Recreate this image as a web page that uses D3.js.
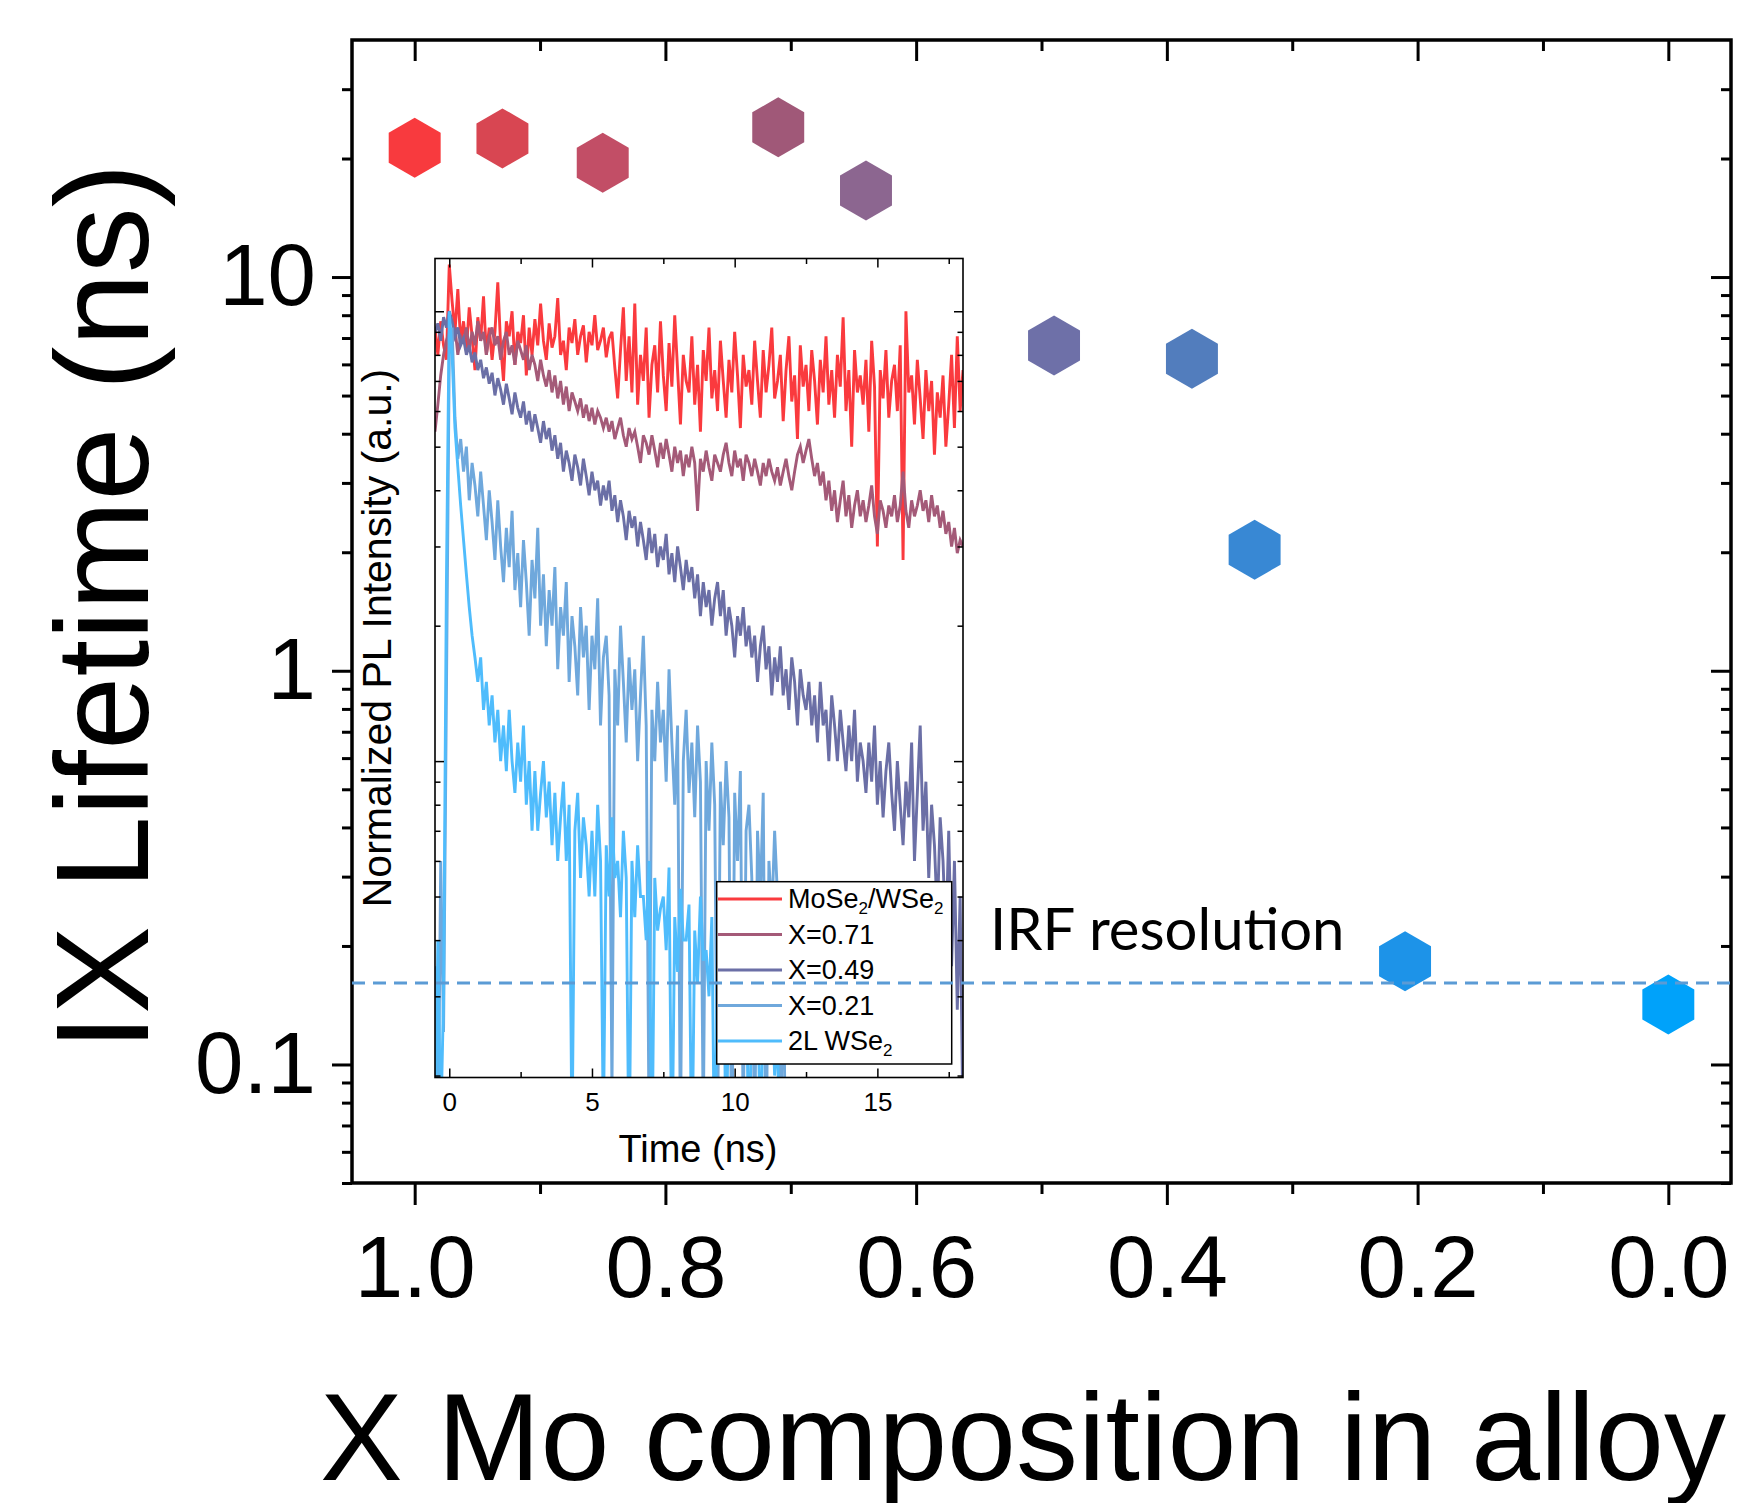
<!DOCTYPE html>
<html>
<head>
<meta charset="utf-8">
<script src="https://cdn.jsdelivr.net/npm/d3@7"></script>
<style>
	body { margin: 0; background: #fff; }
	svg { display: block; }
	.ax text { font-family: "Liberation Sans", Arial, sans-serif; fill: #000; }
	.ax line { stroke: #000; }
</style>
</head>
<body>
<svg class="mainsvg" width="1748" height="1503"></svg>
<script>
// ---- main panel: IX lifetime vs Mo composition ----
var composition = [1.0, 0.93, 0.85, 0.71, 0.64, 0.49, 0.38, 0.33, 0.21, 0.0];
var lifetime    = [21.3, 22.5, 19.5, 24.0, 16.6, 6.7, 6.2, 2.03, 0.183, 0.142];
var pointColors = ['#F83A3E', '#D84652', '#C24E66', '#A05878', '#8C6690',
                   '#6E70A8', '#527DBD', '#3888D4', '#1D93E8', '#00A2FA'];
var irfLevel = 0.161;

var xTicks      = [1.0, 0.8, 0.6, 0.4, 0.2, 0.0];
var xMinorTicks = [0.9, 0.7, 0.5, 0.3, 0.1];
var yTicks      = [0.1, 1, 10];
var yMinorTicks = [0.05, 0.06, 0.07, 0.08, 0.09, 0.2, 0.3, 0.4, 0.5, 0.6, 0.7, 0.8, 0.9,
                   2, 3, 4, 5, 6, 7, 8, 9, 20, 30];

// ---- inset: normalized PL decays (0.1 ns bins starting at -0.5 ns) ----
var decayT0 = -0.5, decayDt = 0.1;
var decayMoSe2 = [
	0.92, 0.80, 0.95, 0.84, 0.78, 1.27, 1.05, 0.90, 1.12, 0.85,
	0.95, 0.82, 1.02, 0.88, 0.74, 0.97, 0.86, 1.08, 0.80, 0.92,
	0.78, 0.90, 1.16, 0.84, 0.70, 0.95, 0.88, 1.00, 0.76, 0.90,
	0.85, 0.98, 0.72, 0.92, 0.80, 0.96, 0.84, 1.04, 0.86, 0.78,
	0.94, 0.83, 0.88, 1.07, 0.80, 0.86, 0.74, 0.92, 0.85, 0.96,
	0.80, 0.88, 0.93, 0.77, 0.90, 0.84, 0.98, 0.82, 0.86, 0.92,
	0.79, 0.87, 0.90, 0.75, 0.64, 0.82, 1.02, 0.70, 0.88, 0.66,
	1.04, 0.62, 0.80, 0.70, 0.92, 0.58, 0.76, 0.84, 0.66, 0.95,
	0.72, 0.60, 0.85, 0.68, 0.98, 0.74, 0.56, 0.80, 0.70, 0.66,
	0.88, 0.62, 0.76, 0.54, 0.82, 0.70, 0.92, 0.64, 0.74, 0.60,
	0.86, 0.70, 0.58, 0.78, 0.66, 0.90, 0.72, 0.55, 0.80, 0.68,
	0.74, 0.62, 0.86, 0.70, 0.58, 0.82, 0.66, 0.76, 0.92, 0.64,
	0.70, 0.80, 0.57, 0.74, 0.88, 0.63, 0.72, 0.52, 0.84, 0.68,
	0.76, 0.60, 0.82, 0.70, 0.56, 0.78, 0.66, 0.88, 0.62, 0.74,
	0.58, 0.80, 0.68, 0.97, 0.60, 0.74, 0.50, 0.82, 0.66, 0.72,
	0.62, 0.78, 0.54, 0.86, 0.68, 0.30, 0.74, 0.64, 0.82, 0.58,
	0.70, 0.76, 0.60, 0.84, 0.28, 1.00, 0.66, 0.72, 0.56, 0.78,
	0.64, 0.52, 0.74, 0.60, 0.70, 0.48, 0.66, 0.58, 0.72, 0.50,
	0.62, 0.80, 0.55, 0.88, 0.60, 0.74
];
var decayX071 = [
	0.54, 0.62, 0.72, 0.80, 0.86, 0.90, 0.84, 0.92, 0.80, 0.88,
	0.86, 0.92, 0.82, 0.90, 0.84, 0.95, 0.86, 0.90, 0.80, 0.88,
	0.92, 0.84, 0.88, 0.78, 0.86, 0.90, 0.80, 0.84, 0.76, 0.86,
	0.82, 0.78, 0.84, 0.74, 0.80, 0.76, 0.70, 0.78, 0.72, 0.68,
	0.74, 0.66, 0.72, 0.64, 0.70, 0.62, 0.68, 0.60, 0.66, 0.63,
	0.60, 0.64, 0.58, 0.62, 0.57, 0.61, 0.56, 0.60, 0.58, 0.55,
	0.58, 0.54, 0.57, 0.52, 0.55, 0.58, 0.53, 0.50, 0.55, 0.52,
	0.54, 0.50, 0.46, 0.53, 0.51, 0.48, 0.53, 0.49, 0.45, 0.51,
	0.47, 0.52, 0.48, 0.44, 0.50, 0.46, 0.49, 0.43, 0.48, 0.45,
	0.50, 0.46, 0.36, 0.47, 0.44, 0.49, 0.45, 0.42, 0.48, 0.46,
	0.44, 0.48, 0.51, 0.46, 0.43, 0.49, 0.45, 0.47, 0.42, 0.48,
	0.46, 0.43, 0.47, 0.44, 0.41, 0.46, 0.43, 0.47, 0.44, 0.42,
	0.45, 0.41, 0.44, 0.47, 0.43, 0.40, 0.44, 0.48, 0.50, 0.46,
	0.49, 0.52, 0.47, 0.43, 0.46, 0.41, 0.44, 0.38, 0.42, 0.36,
	0.40, 0.34, 0.38, 0.42, 0.35, 0.39, 0.33, 0.37, 0.40, 0.35,
	0.38, 0.34, 0.37, 0.41, 0.35, 0.32, 0.38, 0.36, 0.33, 0.37,
	0.35, 0.39, 0.34, 0.37, 0.44, 0.36, 0.33, 0.38, 0.35, 0.37,
	0.40, 0.36, 0.38, 0.34, 0.39, 0.35, 0.37, 0.33, 0.36, 0.32,
	0.34, 0.30, 0.33, 0.29, 0.31, 0.30
];
var decayX049 = [
	0.90, 0.94, 0.86, 0.97, 0.92, 1.00, 0.95, 0.88, 0.92, 0.84,
	0.87, 0.80, 0.84, 0.77, 0.81, 0.74, 0.78, 0.71, 0.75, 0.69,
	0.73, 0.65, 0.71, 0.67, 0.62, 0.69, 0.64, 0.59, 0.66, 0.61,
	0.58, 0.63, 0.56, 0.60, 0.54, 0.59, 0.55, 0.51, 0.57, 0.52,
	0.55, 0.49, 0.53, 0.47, 0.51, 0.44, 0.49, 0.46, 0.42, 0.48,
	0.45, 0.41, 0.47, 0.43, 0.39, 0.44, 0.40, 0.42, 0.37, 0.41,
	0.38, 0.42, 0.36, 0.39, 0.34, 0.38, 0.35, 0.31, 0.36, 0.33,
	0.35, 0.30, 0.34, 0.31, 0.28, 0.33, 0.29, 0.32, 0.27, 0.30,
	0.28, 0.32, 0.26, 0.29, 0.25, 0.30, 0.27, 0.24, 0.28, 0.25,
	0.27, 0.23, 0.26, 0.21, 0.25, 0.22, 0.24, 0.20, 0.23, 0.25,
	0.21, 0.24, 0.19, 0.22, 0.20, 0.17, 0.21, 0.19, 0.22, 0.18,
	0.20, 0.17, 0.19, 0.15, 0.18, 0.20, 0.16, 0.18, 0.14, 0.17,
	0.15, 0.18, 0.14, 0.16, 0.13, 0.17, 0.15, 0.12, 0.16, 0.14,
	0.13, 0.15, 0.12, 0.14, 0.11, 0.15, 0.12, 0.13, 0.10, 0.14,
	0.12, 0.10, 0.13, 0.11, 0.095, 0.12, 0.10, 0.13, 0.09, 0.11,
	0.10, 0.085, 0.11, 0.09, 0.12, 0.08, 0.10, 0.075, 0.095, 0.11,
	0.085, 0.07, 0.10, 0.08, 0.065, 0.09, 0.075, 0.11, 0.06, 0.085,
	0.12, 0.07, 0.09, 0.055, 0.08, 0.065, 0.045, 0.075, 0.06, 0.04,
	0.07, 0.035, 0.06, 0.028, 0.05, 0.015
];
var decayX021 = [
	0.035, 0.012, 0.06, 0.025, 0.14, 0.80, 0.92, 0.58, 0.47, 0.52,
	0.44, 0.50, 0.38, 0.46, 0.41, 0.35, 0.44, 0.37, 0.31, 0.40,
	0.34, 0.28, 0.38, 0.30, 0.25, 0.33, 0.27, 0.36, 0.24, 0.29,
	0.22, 0.31, 0.25, 0.19, 0.28, 0.23, 0.33, 0.20, 0.26, 0.18,
	0.24, 0.20, 0.27, 0.16, 0.22, 0.19, 0.25, 0.15, 0.21, 0.18,
	0.14, 0.22, 0.17, 0.20, 0.13, 0.19, 0.16, 0.23, 0.12, 0.17,
	0.19, 0.14, 0.018, 0.16, 0.12, 0.20, 0.15, 0.11, 0.17, 0.13,
	0.16, 0.10, 0.14, 0.19, 0.12, 0.015, 0.13, 0.10, 0.15, 0.11,
	0.13, 0.09, 0.16, 0.11, 0.08, 0.12, 0.014, 0.10, 0.13, 0.085,
	0.11, 0.075, 0.12, 0.09, 0.015, 0.10, 0.07, 0.11, 0.08, 0.014,
	0.09, 0.065, 0.10, 0.075, 0.012, 0.085, 0.06, 0.095, 0.015, 0.07,
	0.08, 0.055, 0.013, 0.07, 0.05, 0.085, 0.012, 0.06, 0.045, 0.07,
	0.05, 0.012, 0.04, 0.01
];
var decay2L = [
	0.012, 0.04, 0.015, 0.03, 0.25, 1.00, 0.80, 0.55, 0.45, 0.37,
	0.31, 0.26, 0.22, 0.19, 0.17, 0.15, 0.17, 0.13, 0.15, 0.12,
	0.14, 0.11, 0.13, 0.10, 0.12, 0.095, 0.13, 0.10, 0.085, 0.11,
	0.09, 0.12, 0.08, 0.10, 0.07, 0.095, 0.07, 0.085, 0.10, 0.075,
	0.09, 0.065, 0.085, 0.06, 0.075, 0.09, 0.06, 0.08, 0.014, 0.07,
	0.085, 0.055, 0.075, 0.065, 0.05, 0.07, 0.05, 0.08, 0.06, 0.015,
	0.065, 0.05, 0.075, 0.055, 0.06, 0.045, 0.07, 0.055, 0.012, 0.06,
	0.045, 0.065, 0.05, 0.05, 0.04, 0.06, 0.012, 0.055, 0.042, 0.047,
	0.05, 0.038, 0.058, 0.012, 0.045, 0.034, 0.052, 0.04, 0.04, 0.048,
	0.012, 0.042, 0.032, 0.05, 0.036, 0.038, 0.03, 0.045, 0.012, 0.036,
	0.028, 0.044, 0.013, 0.034, 0.026, 0.04, 0.03, 0.032, 0.025, 0.038,
	0.012, 0.03, 0.024, 0.036, 0.013, 0.028, 0.022, 0.03, 0.03, 0.02,
	0.025, 0.01
];
var decaySeries = [decayMoSe2, decayX071, decayX049, decayX021, decay2L];
var decayLabels = ['MoSe2/WSe2', 'X=0.71', 'X=0.49', 'X=0.21', '2L WSe2'];
var decayColors = ['#FA3A3E', '#A45A78', '#6B6FA6', '#6FA8DC', '#4FBCFC'];

var insetXTicks      = [0, 5, 10, 15];
var insetXMinorTicks = [2.5, 7.5, 12.5, 17.5];
var insetYTicks      = [0.1, 1];
var insetYMinorTicks = [0.02, 0.03, 0.04, 0.05, 0.06, 0.07, 0.08, 0.09,
                        0.2, 0.3, 0.4, 0.5, 0.6, 0.7, 0.8, 0.9];


var svg = d3.select('.mainsvg');

var plotL = 352, plotR = 1731, plotT = 40, plotB = 1183;

var x = d3.scaleLinear().domain([1.05, -0.05]).range([plotL, plotR]);
var y = d3.scaleLog().domain([0.05, 40]).range([plotB, plotT]);

function styleAxis (g, width) {
	g.classed('ax', true);
	g.select('.domain').remove();
	g.selectAll('line').attr('stroke-width', width);
}

// main axes
svg.append('g')
	.attr('transform', 'translate(' + plotL + ',0)')
	.call(d3.axisLeft(y).tickValues(yTicks).tickSize(20).tickPadding(16)
		.tickFormat(function (d) { return d >= 1 ? d3.format('d')(d) : d3.format('.1f')(d); }))
	.call(styleAxis, 3)
	.selectAll('text').attr('font-size', 87);
svg.append('g')
	.attr('transform', 'translate(' + plotL + ',0)')
	.call(d3.axisLeft(y).tickValues(yMinorTicks).tickSize(10).tickFormat(''))
	.call(styleAxis, 3);
svg.append('g')
	.attr('transform', 'translate(' + plotR + ',0)')
	.call(d3.axisRight(y).tickValues(yTicks).tickSize(-20).tickFormat(''))
	.call(styleAxis, 3);
svg.append('g')
	.attr('transform', 'translate(' + plotR + ',0)')
	.call(d3.axisRight(y).tickValues(yMinorTicks).tickSize(-10).tickFormat(''))
	.call(styleAxis, 3);

svg.append('g')
	.attr('transform', 'translate(0,' + plotB + ')')
	.call(d3.axisBottom(x).tickValues(xTicks).tickSize(22).tickPadding(30).tickFormat(d3.format('.1f')))
	.call(styleAxis, 3)
	.selectAll('text').attr('font-size', 87);
svg.append('g')
	.attr('transform', 'translate(0,' + plotB + ')')
	.call(d3.axisBottom(x).tickValues(xMinorTicks).tickSize(11).tickFormat(''))
	.call(styleAxis, 3);
svg.append('g')
	.attr('transform', 'translate(0,' + plotT + ')')
	.call(d3.axisTop(x).tickValues(xTicks).tickSize(-21).tickFormat(''))
	.call(styleAxis, 3);
svg.append('g')
	.attr('transform', 'translate(0,' + plotT + ')')
	.call(d3.axisTop(x).tickValues(xMinorTicks).tickSize(-11).tickFormat(''))
	.call(styleAxis, 3);

svg.append('rect')
	.attr('x', plotL).attr('y', plotT)
	.attr('width', plotR - plotL).attr('height', plotB - plotT)
	.attr('fill', 'none')
	.attr('stroke', '#000')
	.attr('stroke-width', 3.5);

// axis titles
svg.append('text')
	.attr('x', 1023)
	.attr('y', 1480)
	.attr('font-family', '"Liberation Sans", Arial, sans-serif')
	.attr('font-size', 124)
	.style('text-anchor', 'middle')
	.text('X Mo composition in alloy');

svg.append('text')
	.attr('transform', 'translate(148,607) rotate(-90)')
	.attr('font-family', '"Liberation Sans", Arial, sans-serif')
	.attr('font-size', 132)
	.style('text-anchor', 'middle')
	.text('IX Lifetime (ns)');

// hexagon markers
var hexR = 30;
var hexPath = d3.line()(d3.range(6).map(function (k) {
	var a = (k * 60 - 90) * Math.PI / 180;
	return [hexR * Math.cos(a), hexR * Math.sin(a)];
})) + 'Z';

svg.selectAll('.hex')
	.data(composition)
	.enter()
	.append('path')
	.classed('hex', true)
	.attr('d', hexPath)
	.attr('transform', function (d, i) { return 'translate(' + x(d) + ',' + y(lifetime[i]) + ')'; })
	.attr('fill', function (d, i) { return pointColors[i]; });

svg.append('text')
	.attr('x', 990)
	.attr('y', 950)
	.attr('font-family', 'Lato, "Open Sans", sans-serif')
	.attr('font-size', 58)
	.attr('fill', '#000')
	.text('IRF resolution');

// ---- inset ----
var iL = 435, iR = 963, iT = 258.5, iB = 1077.5;
var ix = d3.scaleLinear().domain([-0.5, 18]).range([iL, iR]);
var iy = d3.scaleLog().domain([0.0198, 1.31]).range([iB, iT]);

var inset = svg.append('g');

inset.append('clipPath')
	.attr('id', 'insetClip')
	.append('rect')
	.attr('x', iL).attr('y', iT)
	.attr('width', iR - iL).attr('height', iB - iT);

var decayLine = d3.line()
	.x(function (d, i) { return ix(decayT0 + i * decayDt); })
	.y(function (d) { return iy(Math.max(d, 0.005)); });

inset.append('g')
	.attr('clip-path', 'url(#insetClip)')
	.selectAll('path')
	.data(decaySeries)
	.enter()
	.append('path')
	.attr('d', decayLine)
	.attr('fill', 'none')
	.attr('stroke', function (d, i) { return decayColors[i]; })
	.attr('stroke-width', 2.9)
	.attr('stroke-linejoin', 'miter');

inset.append('g')
	.attr('transform', 'translate(0,' + iB + ')')
	.call(d3.axisBottom(ix).tickValues(insetXTicks).tickSize(-9).tickPadding(15))
	.call(styleAxis, 1.5)
	.selectAll('text').attr('font-size', 26);
inset.append('g')
	.attr('transform', 'translate(0,' + iB + ')')
	.call(d3.axisBottom(ix).tickValues(insetXMinorTicks).tickSize(-5.5).tickFormat(''))
	.call(styleAxis, 1.5);
inset.append('g')
	.attr('transform', 'translate(0,' + iT + ')')
	.call(d3.axisTop(ix).tickValues(insetXTicks).tickSize(-9).tickFormat(''))
	.call(styleAxis, 1.5);
inset.append('g')
	.attr('transform', 'translate(0,' + iT + ')')
	.call(d3.axisTop(ix).tickValues(insetXMinorTicks).tickSize(-5.5).tickFormat(''))
	.call(styleAxis, 1.5);
inset.append('g')
	.attr('transform', 'translate(' + iL + ',0)')
	.call(d3.axisLeft(iy).tickValues(insetYTicks).tickSize(-9).tickFormat(''))
	.call(styleAxis, 1.5);
inset.append('g')
	.attr('transform', 'translate(' + iL + ',0)')
	.call(d3.axisLeft(iy).tickValues(insetYMinorTicks).tickSize(-5.5).tickFormat(''))
	.call(styleAxis, 1.5);
inset.append('g')
	.attr('transform', 'translate(' + iR + ',0)')
	.call(d3.axisRight(iy).tickValues(insetYTicks).tickSize(-9).tickFormat(''))
	.call(styleAxis, 1.5);
inset.append('g')
	.attr('transform', 'translate(' + iR + ',0)')
	.call(d3.axisRight(iy).tickValues(insetYMinorTicks).tickSize(-5.5).tickFormat(''))
	.call(styleAxis, 1.5);

inset.append('rect')
	.attr('x', iL).attr('y', iT)
	.attr('width', iR - iL).attr('height', iB - iT)
	.attr('fill', 'none')
	.attr('stroke', '#000')
	.attr('stroke-width', 1.6);

inset.append('text')
	.attr('x', 698)
	.attr('y', 1162)
	.attr('font-family', '"Liberation Sans", Arial, sans-serif')
	.attr('font-size', 38)
	.style('text-anchor', 'middle')
	.text('Time (ns)');

inset.append('text')
	.attr('transform', 'translate(391,638) rotate(-90)')
	.attr('font-family', '"Liberation Sans", Arial, sans-serif')
	.attr('font-size', 41)
	.style('text-anchor', 'middle')
	.text('Normalized PL Intensity (a.u.)');

// legend
var lgX = 716.7, lgY = 881.7;
inset.append('rect')
	.attr('x', lgX).attr('y', lgY)
	.attr('width', 235).attr('height', 182.3)
	.attr('fill', '#fff')
	.attr('stroke', '#000')
	.attr('stroke-width', 1.5);

var rows = inset.selectAll('.lg-row')
	.data(decayLabels)
	.enter()
	.append('g')
	.classed('lg-row', true)
	.attr('transform', function (d, i) { return 'translate(0,' + (899 + i * 35.5) + ')'; });

rows.append('line')
	.attr('x1', 718).attr('x2', 782)
	.attr('stroke', function (d, i) { return decayColors[i]; })
	.attr('stroke-width', 3);

rows.append('text')
	.attr('x', 788)
	.attr('y', 9)
	.attr('font-family', '"Liberation Sans", Arial, sans-serif')
	.attr('font-size', 27)
	.each(function (d) {
		var t = d3.select(this);
		var parts = d.split(/(?<=Se)(2)/);
		parts.forEach(function (p, k) {
			if (!p) return;
			if (k % 2 == 1) {
				t.append('tspan').attr('font-size', 17).attr('dy', 6).text(p);
			} else {
				t.append('tspan').attr('dy', k > 0 ? -6 : 0).text(p);
			}
		});
	});

// IRF level dashed line on top
svg.append('line')
	.attr('x1', plotL).attr('x2', plotR)
	.attr('y1', y(irfLevel)).attr('y2', y(irfLevel))
	.attr('stroke', '#5B9BD5')
	.attr('stroke-width', 3)
	.attr('stroke-dasharray', '13 8');
</script>
</body>
</html>
